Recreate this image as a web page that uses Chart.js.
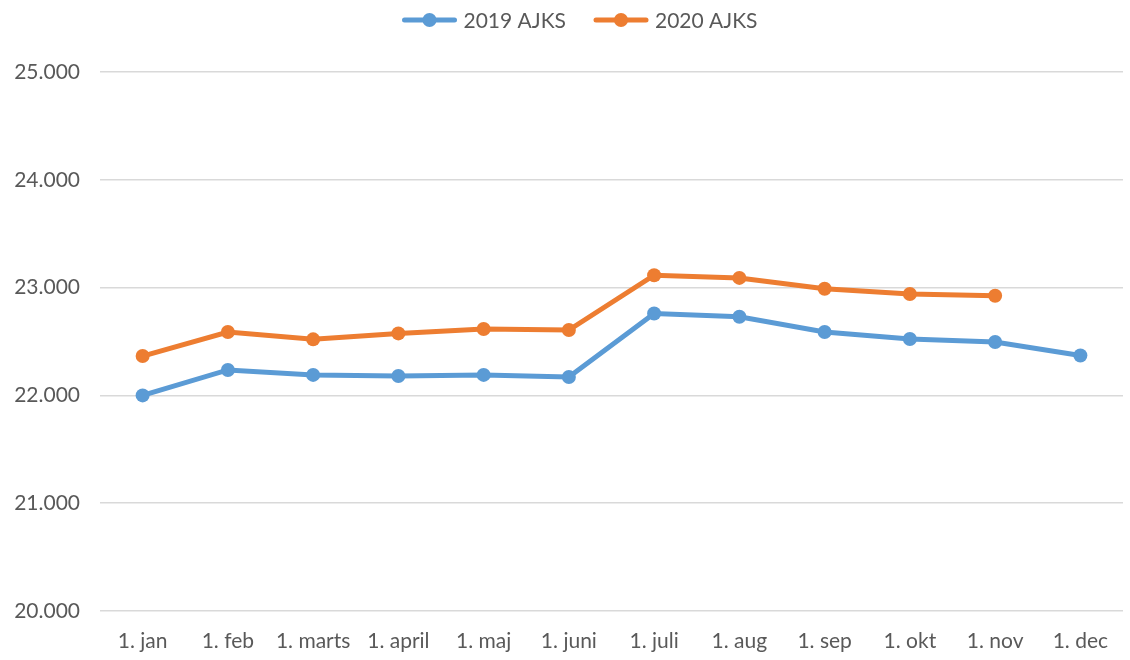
<!DOCTYPE html>
<html><head><meta charset="utf-8">
<script src="https://cdn.jsdelivr.net/npm/chart.js@4/dist/chart.umd.min.js"></script>
<style>html,body{margin:0;padding:0;background:#fff}#wrap{width:1130px;height:660px}</style>
</head><body><div id="wrap"><canvas id="c" width="1130" height="660"></canvas></div>
<script>
const categories = ["1. jan","1. feb","1. marts","1. april","1. maj","1. juni","1. juli","1. aug","1. sep","1. okt","1. nov","1. dec"];
const series2019 = [22000,22236,22190,22180,22190,22170,22760,22730,22588,22523,22495,22370];
const series2020 = [22365,22588,22520,22575,22616,22606,23115,23090,22990,22941,22925,null];
const yTicks = [20000,21000,22000,23000,24000,25000];
const seriesNames = ["2019 AJKS","2020 AJKS"];
const colors = ["#5B9BD5","#ED7D31"];
const fontFam = "Lato, 'Open Sans', sans-serif";
const textColor = '#595959';

const legendPlugin = {
  id:'customLegend',
  afterDraw(chart){
    const ctx=chart.ctx;
    ctx.save();
    ctx.font = "21px " + fontFam;
    ctx.textBaseline='middle';
    const y=20, lineW=54, gap=7, itemGap=28;
    const widths = seriesNames.map(n=>lineW+gap+ctx.measureText(n).width);
    const total = widths.reduce((a,b)=>a+b,0)+itemGap*(seriesNames.length-1);
    let x = 580 - total/2;
    seriesNames.forEach((n,i)=>{
      ctx.strokeStyle=colors[i];ctx.lineWidth=5;ctx.lineCap='round';
      ctx.beginPath();ctx.moveTo(x+2,y);ctx.lineTo(x+lineW-2,y);ctx.stroke();
      ctx.fillStyle=colors[i];ctx.beginPath();ctx.arc(x+lineW/2,y,7,0,Math.PI*2);ctx.fill();
      ctx.fillStyle=textColor;ctx.textAlign='left';
      ctx.fillText(n,x+lineW+gap,y+1);
      x += widths[i]+itemGap;
    });
    ctx.restore();
  }
};

new Chart(document.getElementById('c'),{
  type:'line',
  data:{labels:categories,datasets:[
    {label:seriesNames[0],data:series2019,borderColor:colors[0],backgroundColor:colors[0],borderWidth:5,pointRadius:7,pointHoverRadius:7,pointBackgroundColor:colors[0],pointBorderWidth:0,tension:0},
    {label:seriesNames[1],data:series2020,borderColor:colors[1],backgroundColor:colors[1],borderWidth:5,pointRadius:7,pointHoverRadius:7,pointBackgroundColor:colors[1],pointBorderWidth:0,tension:0}
  ]},
  plugins:[legendPlugin],
  options:{
    responsive:false,animation:false,
    layout:{padding:{left:0,right:0,top:72,bottom:0}},
    plugins:{tooltip:{enabled:false},legend:{display:false}},
    scales:{
      x:{offset:true,grid:{display:false,drawTicks:false},border:{display:false},
         afterFit(s){s.height=49;},
         ticks:{color:textColor,font:{family:fontFam,size:21},padding:18,maxRotation:0,autoSkip:false}},
      y:{min:yTicks[0],max:yTicks[yTicks.length-1],
         afterBuildTicks(s){s.ticks=yTicks.map(v=>({value:v}));},
         afterFit(s){s.width=100;},
         grid:{color:'#d9d9d9',lineWidth:1.5,drawTicks:false},border:{display:false},
         ticks:{color:textColor,font:{family:fontFam,size:21},padding:20,
           callback:v=>{const s=String(v);return s.slice(0,s.length-3)+'.'+s.slice(-3);}}}
    }
  }
});
</script></body></html>
